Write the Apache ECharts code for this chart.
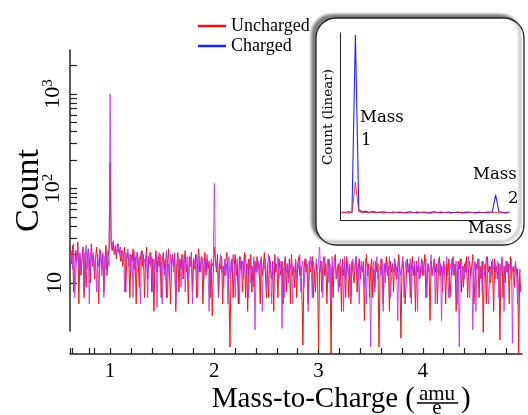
<!DOCTYPE html>
<html><head><meta charset="utf-8">
<script src="https://cdn.jsdelivr.net/npm/echarts@6/dist/echarts.min.js"></script>
<style>html,body{margin:0;padding:0;background:#fff}#c{width:528px;height:415px}</style>
</head><body><div id="c"></div>
<script>
// sampling grid of the spectrum (mass-to-charge), one sample every 0.01 amu/e
const massStart = 0.62, massStep = 0.01;
const uncharged = [
21,16,25,8,13,22,17,27,6,20, 12,18,24,7,21,9,17,23,19,10, 26,15,20,11,18,24,16,6,19,22, 14,20,8,17,25,12,19,23,
190,
25,22,27,20,24,18,26,21,23,17, 22,15,19,24,8,18,21,16,7,20, 17,23,14,19,6,21,16,9,18,22, 15,20,7,17,24,11,19,16,21,8,
18,5,16,22,13,19,15,20,7,17, 21,14,18,7,16,23,13,6,17,20, 15,19,5,16,21,8,18,14,20,11, 17,22,13,16,6,19,15,21,8,18,
14,20,7,17,23,13,16,19,6,15, 21,12,18,14,17,7,16,4.5,13,
24,
18,13,20,7,16,14,19,6,15,12, 17,21,13,8,2.1,14,18,7,15,20, 12,16,6,19,14,17,8,15,21,7, 16,5,18,14,20,8,15,9,17,13,
19,14,16,6,18,12,15,21,13,7, 16,7,19,14,11,17,5,20,13,16, 7,18,14,12,17,6,15,19,8,16, 11,18,6,20,12,15,9,17,7,16,
19,12,15,8,2.2,14,18,13,16,6, 17,13,15,19,7,14,8,16,12,
2.0,14,17,8,15,19,12,16,6,14, 18,13,1.8,15,7,17,20,11,14,16, 9,15,5,18,12,16,7,19,14,7, 15,6,17,13,10,16,19,8,14,18,
11,15,13,17,4,14,20,12,16,7, 15,18,7,14,9,17,13,16,2.1,12, 18,14,6,16,13,19,12,15,5,17, 13,16,8,18,14,11,15,20,13,2.6,
14,17,12,6,10,18,13,16,7,14, 19,12,15,5,17,13,16,11,14,18, 12,15,20,7,11,16,14,4,17,12, 15,18,13,16,6,14,19,12,15,8,
17,13,6,16,12,18,7,11,15,19, 12,16,5,10,17,14,18,8,15,9, 16,13,19,7,14,17,12,15,20,6, 10,16,14,18,7,15,11,17,3.0,14,
16,6,19,13,15,10,17,14,5,18, 13,15,11,16,2.5,14,18,7,15,10, 17,13,16,6,19,11,14,15,9,16, 12,14,1.8,13,8
];
const charged = [
17,22,14,26,7,12,20,24,15,21, 13,18,23,8,20,25,14,22,6,19, 24,16,21,13,18,8,20,15,23,17, 12,21,7,19,14,22,18,15,
1000,
27,24,28,21,25,19,23,26,20,24, 17,22,19,8,21,18,23,15,20,13, 19,7,22,12,18,21,15,19,6,17, 22,14,18,16,20,7,17,21,15,19,
8,18,14,20,5.5,16,21,13,17,6, 19,12,17,22,7,16,11,20,15,18, 13,21,6,12,19,15,17,9,18,14, 20,8,16,19,11,17,15,21,6,18,
16,14,20,7,17,19,13,15,18,11, 17,14,20,13,5,12,18,15,17,
113,
19,14,17,7,16,20,13,15,9,18, 12,16,6,19,11,17,13,20,15,7, 16,18,12,6,19,13,17,11,15,20, 12,16,7,18,10,15,13,19,3.2,16,
13,17,12,15,19,5,16,14,18,8, 15,20,13,17,6,16,12,18,14,15, 19,11,14,17,3.3,15,7,18,13,16, 10,17,14,19,6,15,13,18,11,16,
14,20,8,15,17,9,14,18,13,5, 12,19,14,7,17,13,15,18,14,
16,24,13,17,7,15,19,12,14,18, 10,16,6,19,12,15,17,11,14,8, 15,18,12,16,5,19,11,14,17,12, 16,7,15,18,13,14,19,12,16,6,
14,17,13,15,9,18,6,16,14,11, 2.1,15,13,17,8,16,19,11,14,15, 12,18,5,16,10,15,17,12,19,7, 11,16,13,18,12,15,4,17,14,12,
16,19,7,14,17,13,15,12,18,6, 15,13,17,12,16,5,19,11,15,13, 17,12,14,18,7,16,13,15,20,12, 14,17,6,15,13,18,12,16,4,14,
17,12,15,19,13,7,16,14,18,12, 15,13,17,6,16,2.1,14,18,12,15, 11,17,13,16,19,7,14,15,3.2,13, 17,5,16,14,18,11,15,8,17,12,
14,19,13,6,10,15,12,18,14,16, 11,15,17,7,16,12,19,14,5,15, 13,17,12,16,14,18,2.3,15,13,17, 12,6,10,14,13
];
const xTickValues = [0.62,0.64,0.8,0.85,1,1.2,1.4,1.6,1.8,2,2.2,2.4,2.6,2.8,3,3.2,3.4,3.6,3.8,4,4.2,4.4,4.6,4.8];
const xLabelValues = [1,2,3,4];
const yTickValues = [2000,1000,900,800,700,600,500,400,300,200,100,90,80,70,60,50,40,30,20,10];
const yLabelValues = [10,100,1000];

// inset (linear count), sampled every 2 mass units
const insetStart = 1, insetStep = 2;
const insetUncharged = [3.8,4.2,3.6,4.0,20.3,4.5,3.9,4.1,3.7,4.0,3.8,4.3,3.6,3.9,4.1,3.7,4.0,3.8,4.2,3.6,3.9,4.1,3.7,4.0,3.8,4.2,3.6,3.9,4.0,3.7,4.1,3.8,3.6,4.0,3.9,4.2,3.7,3.8,4.1,3.6,3.9,4.0,3.8,3.7,4.1,4.0,3.8,3.9,3.6,4.0];
const insetCharged = [4.2,3.9,4.4,4.0,98.9,5.5,4.3,4.6,4.1,4.5,4.2,4.0,4.4,4.1,3.9,4.3,4.0,4.2,3.8,4.1,4.4,3.9,4.2,4.0,4.3,3.8,4.1,4.4,4.0,4.2,3.9,4.3,4.1,4.0,4.2,3.8,4.1,4.3,4.0,3.9,4.2,4.0,4.1,4.3,4.0,13.4,4.4,4.1,4.0,4.2];

const pairs = (arr, s, d) => arr.map((v, i) => [+(s + i * d).toFixed(4), v]);
const SERIF = '"Liberation Serif", "Times New Roman", serif';
const DSERIF = '"DejaVu Serif", serif';
const axisCol = '#222';

const chart = echarts.init(document.getElementById('c'), null, {renderer: 'canvas'});
chart.setOption({
  animation: false,
  backgroundColor: '#fff',
  legend: {
    orient: 'vertical', left: 193, top: 12, itemWidth: 28, itemHeight: 2.5, itemGap: 2, icon: 'rect',
    textStyle: {fontFamily: SERIF, fontSize: 18, color: '#000', lineHeight: 18},
    data: [
      {name: 'Uncharged', itemStyle: {color: '#ee1111'}},
      {name: 'Charged', itemStyle: {color: '#1f1fee'}}
    ]
  },
  grid: [
    {left: 70, right: 6, top: 50, bottom: 84, containLabel: false, outerBoundsMode: 'none'},
    {left: 340, top: 33, width: 171, height: 187, containLabel: false, outerBoundsMode: 'none'}
  ],
  xAxis: [
    {type: 'value', gridIndex: 0, min: 0.615, max: 4.952, offset: 23,
     axisLine: {lineStyle: {color: axisCol, width: 1.5}},
     axisTick: {inside: true, length: 6, customValues: xTickValues, lineStyle: {color: axisCol, width: 1.2}},
     axisLabel: {customValues: xLabelValues, fontFamily: SERIF, fontSize: 21, color: '#000', margin: 7},
     splitLine: {show: false}},
    {type: 'value', gridIndex: 1, min: 0, max: 100,
     axisLine: {lineStyle: {color: axisCol, width: 1}}, axisTick: {show: false}, axisLabel: {show: false}, splitLine: {show: false}}
  ],
  yAxis: [
    {type: 'log', logBase: 10, gridIndex: 0, min: 3.1, max: 2930, position: 'left',
     axisLine: {show: true, lineStyle: {color: axisCol, width: 1.5}},
     axisTick: {show: false}, axisLabel: {show: false}, splitLine: {show: false}, minorTick: {show: false}},
    {type: 'value', gridIndex: 0, min: Math.log10(3.1), max: Math.log10(2930), position: 'left', offset: 0,
     axisLine: {show: false},
     axisTick: {inside: true, length: 7, customValues: yTickValues.map(v => Math.log10(v)), lineStyle: {color: axisCol, width: 1.2}},
     axisLabel: {customValues: yLabelValues.map(v => Math.log10(v)), rotate: 90, margin: 4, color: '#000',
       fontFamily: SERIF, fontSize: 22,
       formatter: v => { const p = Math.round(v); return p === 1 ? '{b|10}' : '{b|10}{s|' + p + '}'; },
       rich: {b: {fontFamily: SERIF, fontSize: 22, color: '#000'}, s: {fontFamily: SERIF, fontSize: 15, color: '#000', padding: [0, 0, 10, 0]}}},
     splitLine: {show: false},
     name: 'Count', nameLocation: 'middle', nameRotate: 90, nameGap: 24, nameMoveOverlap: false,
     nameTextStyle: {fontFamily: SERIF, fontSize: 34, color: '#000'}},
    {type: 'value', gridIndex: 1, min: 0, max: 100,
     axisLine: {show: true, lineStyle: {color: axisCol, width: 1}}, axisTick: {show: false}, axisLabel: {show: false}, splitLine: {show: false}}
  ],
  series: [
    {name: 'Uncharged', type: 'line', xAxisIndex: 0, yAxisIndex: 0, symbol: 'none', clip: false,
     data: pairs(uncharged, massStart, massStep), lineStyle: {color: '#f01616', width: 1}, itemStyle: {color: '#f01616'}, z: 2},
    {name: 'Charged', type: 'line', xAxisIndex: 0, yAxisIndex: 0, symbol: 'none', clip: false,
     data: pairs(charged, massStart, massStep), lineStyle: {color: '#bc30f2', width: 1, opacity: 0.85}, itemStyle: {color: '#bc30f2'}, z: 3},
    {name: 'inset-charged', type: 'line', xAxisIndex: 1, yAxisIndex: 2, symbol: 'none',
     data: pairs(insetCharged, insetStart, insetStep), lineStyle: {color: '#2424f0', width: 1.1}, z: 5},
    {name: 'inset-uncharged', type: 'line', xAxisIndex: 1, yAxisIndex: 2, symbol: 'none',
     data: pairs(insetUncharged, insetStart, insetStep), lineStyle: {color: '#ee2020', width: 1, opacity: 0.85}, z: 6}
  ],
  graphic: [
    {type: 'rect', z: -10, shape: {x: 316, y: 18, width: 208, height: 227, r: 20},
     style: {fill: '#fff', stroke: '#222', lineWidth: 1.3, shadowBlur: 3, shadowOffsetX: -4, shadowOffsetY: -3, shadowColor: 'rgba(0,0,0,0.5)'}},
    {type: 'text', z: 100, x: 328, y: 117, rotation: Math.PI / 2,
     style: {text: 'Count (linear)', font: '13.5px ' + DSERIF, fill: '#000', align: 'center', verticalAlign: 'middle'}},
    {type: 'text', z: 100, x: 360, y: 118, style: {text: 'Mass', font: '16.5px ' + DSERIF, fill: '#000', verticalAlign: 'middle'}},
    {type: 'text', z: 100, x: 361, y: 141, style: {text: '1', font: '16.5px ' + DSERIF, fill: '#000', verticalAlign: 'middle'}},
    {type: 'text', z: 100, x: 473, y: 175, style: {text: 'Mass', font: '16.5px ' + DSERIF, fill: '#000', verticalAlign: 'middle'}},
    {type: 'text', z: 100, x: 508, y: 199, style: {text: '2', font: '16.5px ' + DSERIF, fill: '#000', verticalAlign: 'middle'}},
    {type: 'text', z: 100, x: 468, y: 229, style: {text: 'Mass', font: '16.5px ' + DSERIF, fill: '#000', verticalAlign: 'middle'}},
    {type: 'text', z: 100, x: 415, y: 399, style: {text: 'Mass-to-Charge (', font: '29px ' + SERIF, fill: '#000', align: 'right', verticalAlign: 'middle'}},
    {type: 'text', z: 100, x: 437, y: 394, style: {text: 'amu', font: '21px ' + SERIF, fill: '#000', align: 'center', verticalAlign: 'middle'}},
    {type: 'line', z: 100, shape: {x1: 417, y1: 403, x2: 458, y2: 403}, style: {stroke: '#000', lineWidth: 1.3}},
    {type: 'text', z: 100, x: 437, y: 408, style: {text: 'e', font: '21px ' + SERIF, fill: '#000', align: 'center', verticalAlign: 'middle'}},
    {type: 'text', z: 100, x: 461, y: 399, style: {text: ')', font: '29px ' + SERIF, fill: '#000', align: 'left', verticalAlign: 'middle'}}
  ]
});
</script>
</body></html>
